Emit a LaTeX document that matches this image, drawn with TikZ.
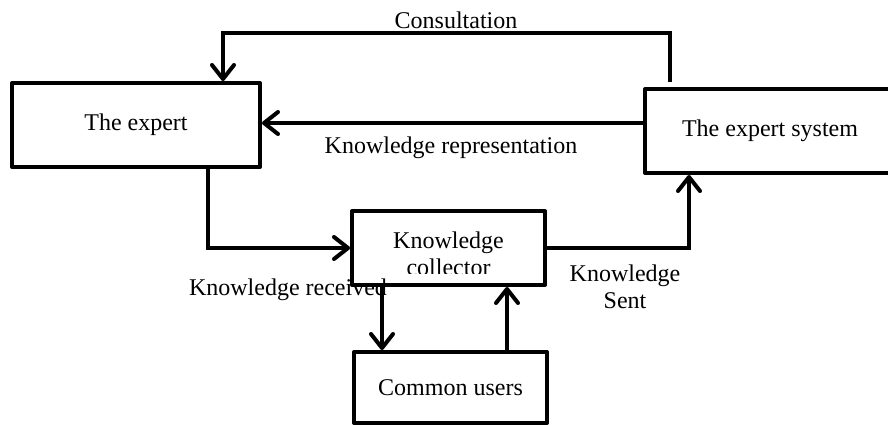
\documentclass[tikz,border=0pt]{standalone}
\usepackage{fontspec}
\setmainfont{Liberation Serif}
\usetikzlibrary{arrows.meta,calc,positioning}

\begin{document}
\begin{tikzpicture}[x=1pt,y=-1pt,
    font=\fontsize{24}{27}\selectfont,
    box/.style={draw,line width=4pt,line join=round,inner sep=0pt},
    arrow/.style={line width=4pt,-{Straight Barb[length=14pt,width=22pt,round]}}]
    \useasboundingbox (0,0) rectangle (888,424);
    % Draw the four boxes
    \node[box,minimum width=248pt,minimum height=84pt] (expert) at (136,125) {The expert};
    \node[box,minimum width=255pt,minimum height=84pt] (system) at (772.5,131) {};
    \node at (770,131) {The expert system};
    \node[box,minimum width=193pt,minimum height=74pt] (collector) at (448.5,248) {};
    \node[box,minimum width=193pt,minimum height=71pt] (users) at (450.5,387.5) {Common users};
    % The text of the collector is cut at the bottom
    \begin{scope}
      \clip (collector.north west) rectangle ($(collector.south east)+(0,-14)$);
      \node[align=center] (collectortext) at (448.5,253.5) {Knowledge\\collector};
    \end{scope}
    % Label the connectors
    \node (consultation) at (456,20) {Consultation};
    \node (representation) at (451,148) {Knowledge representation};
    \node (received) at (288,290) {Knowledge received};
    \node[align=center] (sent) at (625,286.5) {Knowledge\\Sent};
    % Draw the connectors
    \coordinate (consultstart) at (670,82);
    \coordinate (consultcorner) at (223,33);
    \draw[arrow] (consultstart) |- (consultcorner) -- (consultcorner |- expert.north);
    \draw[arrow] (system.west |- 0,123) -- (expert.east |- 0,123);
    \draw[arrow] (expert.south -| 208,0) |- (collector.west);
    \draw[arrow] (collector.east) -| (system.south -| 689,0);
    \draw[arrow] (collector.south -| 382,0) -- (users.north -| 382,0);
    \draw[arrow] (users.north -| 507,0) -- (collector.south -| 507,0);
\end{tikzpicture}
\end{document}
